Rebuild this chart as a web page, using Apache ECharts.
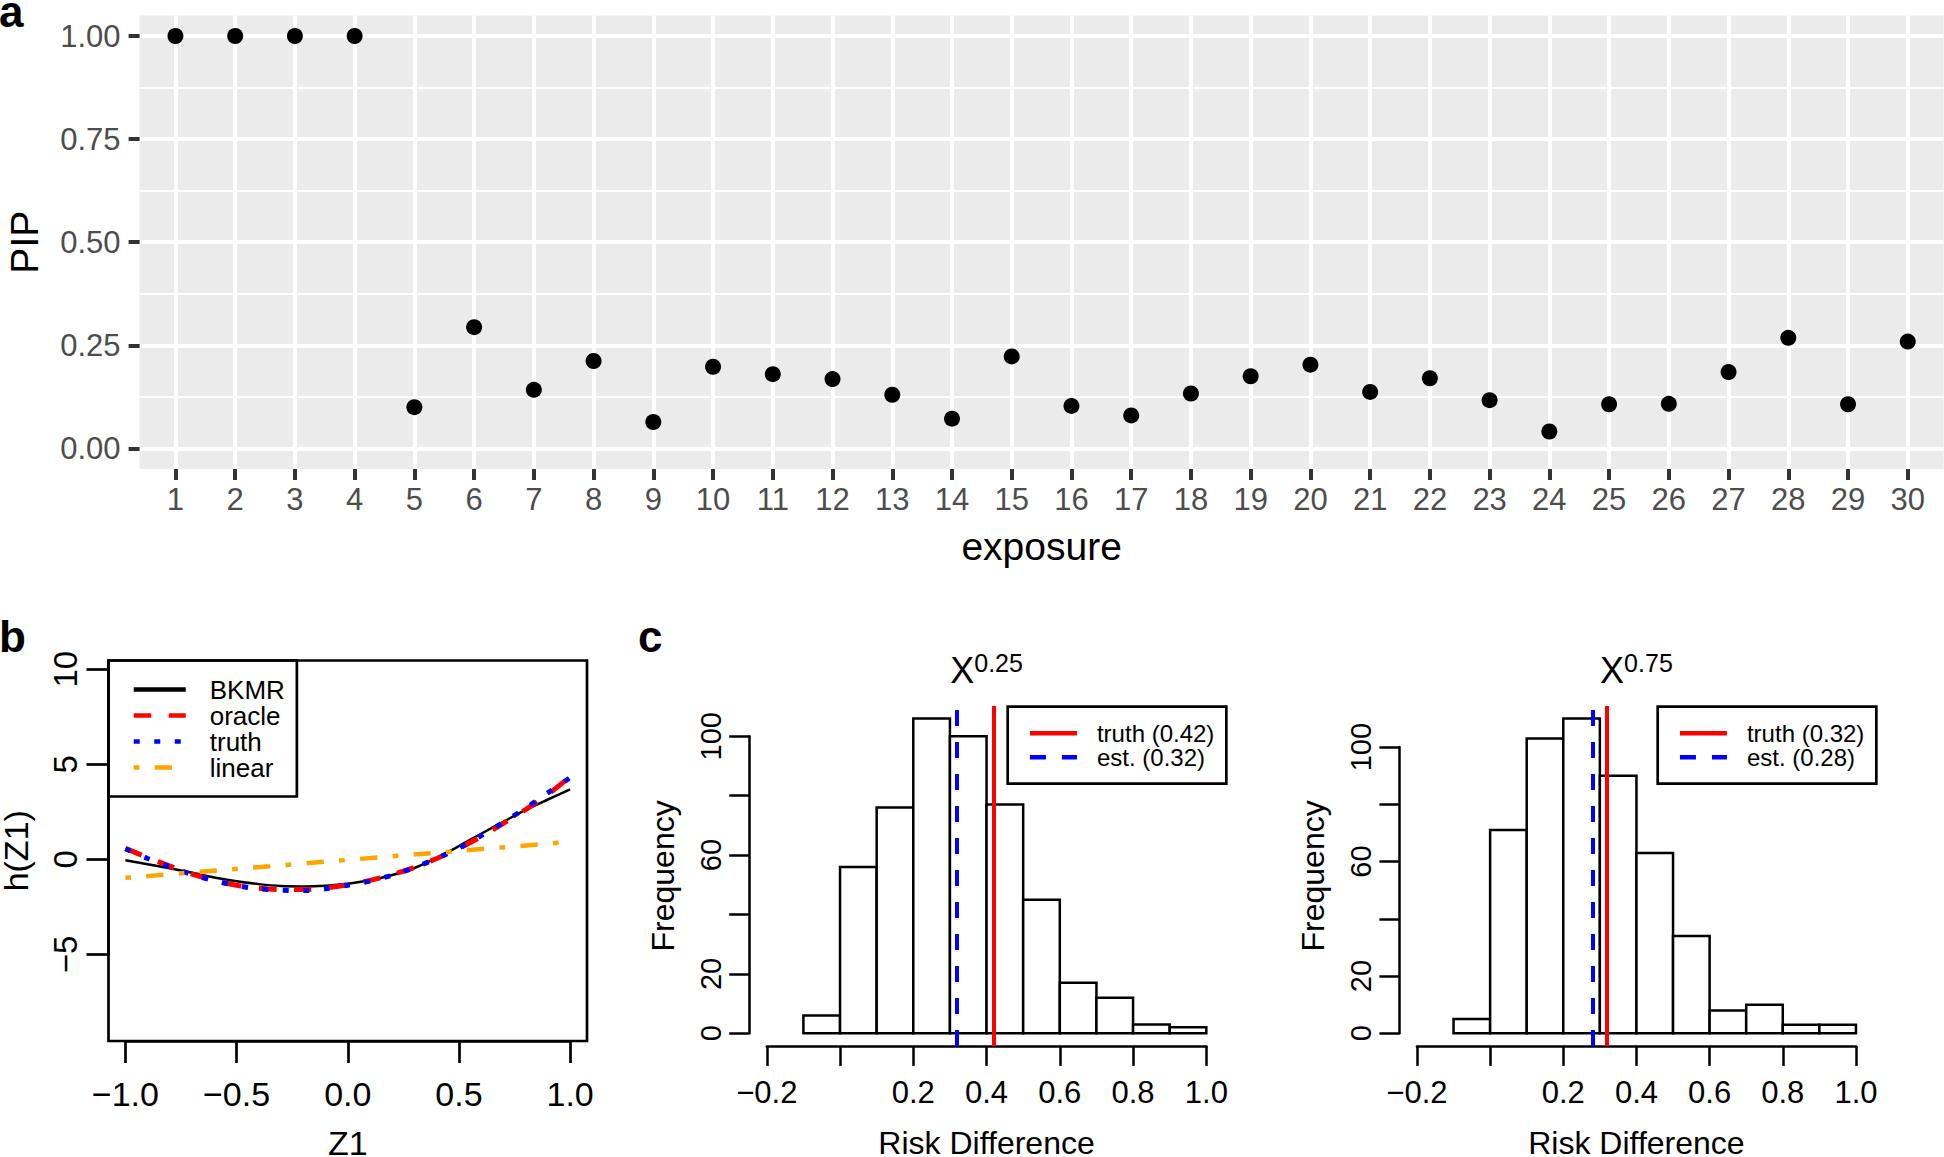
<!DOCTYPE html>
<html><head><meta charset="utf-8">
<script src="https://cdn.jsdelivr.net/npm/echarts@6/dist/echarts.min.js"></script>
<style>html,body{margin:0;padding:0;background:#fff}#c{width:1944px;height:1157px}</style>
</head><body><div id="c"></div>
<script>
// ---------------- data ----------------
// panel a : posterior inclusion probabilities
const exposures = [1,2,3,4,5,6,7,8,9,10,11,12,13,14,15,16,17,18,19,20,21,22,23,24,25,26,27,28,29,30];
const pip = [1.00,1.00,1.00,1.00,0.100,0.294,0.142,0.212,0.064,0.198,0.180,0.168,0.130,0.072,0.223,0.103,0.080,0.133,0.175,0.203,0.137,0.170,0.117,0.041,0.107,0.108,0.185,0.268,0.107,0.259];
const pipTicks = [0, 0.25, 0.5, 0.75, 1];
const pipMinorTicks = [0.125, 0.375, 0.625, 0.875];
// panel b : exposure-response curves
const z1 = [-1.0,-0.9,-0.8,-0.7,-0.6,-0.5,-0.4,-0.3,-0.2,-0.1,0.0,0.1,0.2,0.3,0.4,0.5,0.6,0.7,0.8,0.9,1.0];
const hBKMR   = [-0.04,-0.25,-0.47,-0.70,-0.95,-1.15,-1.30,-1.40,-1.42,-1.38,-1.28,-1.10,-0.82,-0.45,0.08,0.70,1.35,1.98,2.60,3.15,3.68];
const hOracle = [0.58,0.10,-0.35,-0.78,-1.10,-1.36,-1.52,-1.58,-1.58,-1.50,-1.33,-1.10,-0.80,-0.42,0.05,0.58,1.20,1.90,2.62,3.42,4.35];
const hTruth  = [0.56,0.05,-0.38,-0.80,-1.12,-1.38,-1.54,-1.62,-1.64,-1.55,-1.36,-1.14,-0.83,-0.43,0.05,0.60,1.25,1.95,2.70,3.50,4.30];
const zLinear = [-1.0, 1.0];
const hLinear = [-0.97, 0.92];
const zTicks = [-1, -0.5, 0, 0.5, 1];
const hTicks = [-5, 0, 5, 10];
// panel c : histograms of risk difference
const quantiles = ['0.25', '0.75'];
const breaks = [-0.1,0.0,0.1,0.2,0.3,0.4,0.5,0.6,0.7,0.8,0.9,1.0];
const freq25 = [6,56,76,106,100,77,45,17,12,3,2];
const freq75 = [5,71,103,110,90,63,34,8,10,3,3];
const truth25 = 0.42, est25 = 0.32;
const truth75 = 0.32, est75 = 0.28;
const rdTicks = [-0.2,0.0,0.2,0.4,0.6,0.8,1.0];
const rdLabels = [-0.2,0.2,0.4,0.6,0.8,1.0];
const freqTicks = [0,20,40,60,80,100];
const freqLabels = [0,20,60,100];

// ---------------- layout ----------------
const FONT = '"Liberation Sans", Arial, Helvetica, sans-serif';
const PA = {left:139.6, top:15.4, width:1804, height:453.6, xMin:0.4, xMax:30.6, yMin:-0.05, yMax:1.05};
const PB = {left:108.5, top:660.5, width:478.5, height:380.5, xMin:-1.076, xMax:1.076, yMin:-9.55, yMax:10.46};
function histRange(f){ const m = Math.max(...f); return [-0.04*m, 1.04*m]; }
const r25 = histRange(freq25), r75 = histRange(freq75);
const PC1 = {left:749.2, top:705.9, width:474.7, height:340, xMin:-0.248, xMax:1.048, yMin:r25[0], yMax:r25[1]};
const PC2 = {left:1399.4, top:705.9, width:474.1, height:340, xMin:-0.248, xMax:1.048, yMin:r75[0], yMax:r75[1]};
function pxX(P,v){ return P.left + (v-P.xMin)/(P.xMax-P.xMin)*P.width; }
function pxY(P,v){ return P.top + (P.yMax-v)/(P.yMax-P.yMin)*P.height; }
function minus(s){ return String(s).replace('-', '\u2212'); }

const hidden = {axisLine:{show:false, onZero:false}, axisTick:{show:false}, axisLabel:{show:false}, splitLine:{show:false}};
function plotGrid(P, extra){ return Object.assign({left:P.left, top:P.top, width:P.width, height:P.height, containLabel:false, outerBoundsMode:'none', show:false}, extra||{}); }
function axesGrid(P, x0, x1, y0, y1){
  const l = pxX(P,x0), r = pxX(P,x1), t = pxY(P,y1), b = pxY(P,y0);
  return {left:l, top:t, width:r-l, height:b-t, containLabel:false, outerBoundsMode:'none', show:false};
}
const grids = [
  plotGrid(PA, {show:true, backgroundColor:'#EBEBEB', borderWidth:0}),
  plotGrid(PB, {show:true, backgroundColor:'transparent', borderColor:'#000', borderWidth:2.7}),
  axesGrid(PB, -1, 1, -5, 10),
  plotGrid(PC1),
  axesGrid(PC1, -0.2, 1.0, 0, 100),
  plotGrid(PC2),
  axesGrid(PC2, -0.2, 1.0, 0, 100)
];

function nameAxis(grid, P, isX, name, gap, size){
  return Object.assign({type:'value', gridIndex:grid, min: isX?P.xMin:P.yMin, max: isX?P.xMax:P.yMax,
    name:name, nameLocation:'middle', nameGap:gap, nameMoveOverlap:false,
    nameTextStyle:{fontSize:size, color:'#000', fontFamily:FONT}}, hidden);
}
function histXAxis(grid, P){
  return {type:'value', gridIndex:grid, min:-0.2, max:1.0, offset: P.top+P.height - pxY(P,0),
    axisLine:{show:true, onZero:false, lineStyle:{color:'#000', width:2.5}},
    axisTick:{show:true, inside:false, length:20, customValues:rdTicks, lineStyle:{color:'#000', width:2.5}},
    axisLabel:{show:true, customValues:rdLabels, margin:31, fontSize:31, color:'#000', fontFamily:FONT, formatter:v=>minus(v.toFixed(1))},
    splitLine:{show:false}};
}
function histYAxis(grid, P){
  return {type:'value', gridIndex:grid, min:0, max:100, offset: pxX(P,-0.2) - P.left,
    axisLine:{show:true, onZero:false, lineStyle:{color:'#000', width:2.5}},
    axisTick:{show:true, inside:false, length:20, customValues:freqTicks, lineStyle:{color:'#000', width:2.5}},
    axisLabel:{show:true, customValues:freqLabels, rotate:90, margin:24, fontSize:29, color:'#000', fontFamily:FONT},
    splitLine:{show:false}};
}

const xAxes = [
  {type:'value', gridIndex:0, min:PA.xMin, max:PA.xMax,
   axisLine:{show:false, onZero:false},
   axisTick:{show:true, inside:false, length:11, customValues:exposures, lineStyle:{color:'#333', width:4}},
   axisLabel:{show:true, customValues:exposures, margin:15, fontSize:31, color:'#4D4D4D', fontFamily:FONT},
   splitLine:{show:true, lineStyle:{color:'#fff', width:4}},
   name:'exposure', nameLocation:'middle', nameGap:58, nameMoveOverlap:false,
   nameTextStyle:{fontSize:39, color:'#000', fontFamily:FONT}},
  nameAxis(1, PB, true, 'Z1', 85, 34),
  {type:'value', gridIndex:2, min:-1, max:1, offset: PB.top+PB.height - pxY(PB,-5),
   axisLine:{show:true, onZero:false, lineStyle:{color:'#000', width:2.7}},
   axisTick:{show:true, inside:false, length:22, customValues:zTicks, lineStyle:{color:'#000', width:2.7}},
   axisLabel:{show:true, customValues:zTicks, margin:36, fontSize:34, color:'#000', fontFamily:FONT, formatter:v=>minus(v.toFixed(1))},
   splitLine:{show:false}},
  nameAxis(3, PC1, true, 'Risk Difference', 81, 32),
  histXAxis(4, PC1),
  nameAxis(5, PC2, true, 'Risk Difference', 81, 32),
  histXAxis(6, PC2)
];
const yAxes = [
  {type:'value', gridIndex:0, min:PA.yMin, max:PA.yMax,
   axisLine:{show:false, onZero:false},
   axisTick:{show:true, inside:false, length:11, customValues:pipTicks, lineStyle:{color:'#333', width:4}},
   axisLabel:{show:true, customValues:pipTicks, margin:19, fontSize:31, color:'#4D4D4D', fontFamily:FONT, formatter:v=>v.toFixed(2)},
   splitLine:{show:true, lineStyle:{color:'#fff', width:4}},
   name:'PIP', nameLocation:'middle', nameGap:96, nameMoveOverlap:false,
   nameTextStyle:{fontSize:39, color:'#000', fontFamily:FONT}},
  {type:'value', gridIndex:0, min:PA.yMin, max:PA.yMax, position:'left',
   axisLine:{show:false, onZero:false}, axisTick:{show:false, customValues:pipMinorTicks}, axisLabel:{show:false},
   splitLine:{show:true, lineStyle:{color:'#fff', width:2}}},
  nameAxis(1, PB, false, 'h(Z1)', 76, 34),
  {type:'value', gridIndex:2, min:-5, max:10, offset: pxX(PB,-1) - PB.left,
   axisLine:{show:true, onZero:false, lineStyle:{color:'#000', width:2.7}},
   axisTick:{show:true, inside:false, length:22, customValues:hTicks, lineStyle:{color:'#000', width:2.7}},
   axisLabel:{show:true, customValues:hTicks, rotate:90, margin:27, fontSize:33, color:'#000', fontFamily:FONT, formatter:v=>minus(v)},
   splitLine:{show:false}},
  nameAxis(3, PC1, false, 'Frequency', 70, 32),
  histYAxis(4, PC1),
  nameAxis(5, PC2, false, 'Frequency', 70, 32),
  histYAxis(6, PC2)
];

function zip(xs, ys){ return xs.map((x,i)=>[x, ys[i]]); }
function curve(name, ys, xs, color, width, type){
  return {type:'line', name:name, xAxisIndex:1, yAxisIndex:2, data:zip(xs, ys), symbol:'none', smooth:0.3,
    lineStyle:{color:color, width:width, type:type, cap:'butt'}, itemStyle:{color:color}, silent:true, clip:true};
}
function hist(xi, yi, counts){
  const data = counts.map((c,i)=>[breaks[i], breaks[i+1], c]);
  return {type:'custom', xAxisIndex:xi, yAxisIndex:yi, data:data, encode:{x:[0,1], y:2}, silent:true, clip:false,
    renderItem:(params, api)=>{
      const p0 = api.coord([api.value(0), 0]);
      const p1 = api.coord([api.value(1), api.value(2)]);
      return {type:'rect', shape:{x:p0[0], y:p1[1], width:p1[0]-p0[0], height:p0[1]-p1[1]},
        style:{fill:'#fff', stroke:'#000', lineWidth:2.5}};
    }};
}
function vline(xi, yi, name, value, color, type){
  return {type:'line', name:name, xAxisIndex:xi, yAxisIndex:yi, data:[], symbol:'none', z:5,
    lineStyle:{color:color, width:4, type:type, cap:'butt'}, itemStyle:{color:color},
    markLine:{symbol:['none','none'], silent:true, animation:false, label:{show:false},
      lineStyle:{color:color, width:4, type:type, cap:'butt'}, emphasis:{disabled:true},
      data:[{xAxis:value}]}};
}
const nT25 = 'truth (' + truth25.toFixed(2) + ')', nE25 = 'est. (' + est25.toFixed(2) + ')';
const nT75 = 'truth (' + truth75.toFixed(2) + ')', nE75 = 'est. (' + est75.toFixed(2) + ')';

const series = [
  {type:'scatter', xAxisIndex:0, yAxisIndex:0, data:zip(exposures, pip), symbol:'circle', symbolSize:16,
   itemStyle:{color:'#000', opacity:1}, silent:true},
  curve('BKMR', hBKMR, z1, '#000', 2.5, 'solid'),
  curve('oracle', hOracle, z1, '#FF0000', 5, [17.5,17.5]),
  curve('truth', hTruth, z1, '#0000FF', 5, [6,14.5]),
  curve('linear', hLinear, zLinear, '#FFA500', 4.5, [5.7,15.3,17.3,15.3]),
  hist(3, 4, freq25),
  vline(3, 4, nT25, truth25, '#FF0000', 'solid'),
  vline(3, 4, nE25, est25, '#0000FF', [16,16]),
  hist(5, 6, freq75),
  vline(5, 6, nT75, truth75, '#FF0000', 'solid'),
  vline(5, 6, nE75, est75, '#0000FF', [16,16])
];

function legendBox(names, left, top, pad, itemW, fontSize, lh, textPad){
  return {show:true, data:names, left:left, top:top, orient:'vertical', padding:pad,
    borderColor:'#000', borderWidth:2.7, backgroundColor:'transparent', borderRadius:0,
    itemWidth:itemW, itemHeight:14, itemGap:0, selectedMode:false,
    itemStyle:{color:'transparent', opacity:0, borderWidth:0},
    lineStyle:{width:4.5, cap:'butt'},
    textStyle:{fontSize:fontSize, lineHeight:lh, color:'#000', fontFamily:FONT, padding:[0,0,0,textPad]}};
}
const legends = [
  legendBox(['BKMR','oracle','truth','linear'], PB.left, PB.top, [16,12,16,23], 52, 26, 25.7, 19),
  legendBox([nT25, nE25], 1007.7, 706.7, [14.5,12,14.5,20], 47, 24, 23, 15),
  legendBox([nT75, nE75], 1657.7, 706.7, [14.5,12,14.5,20], 47, 24, 23, 15)
];

function letter(t, x, baseline){
  return {type:'text', x:x, y:baseline - 0.3465*44, silent:true,
    style:{text:t, fontSize:44, fontWeight:'bold', fontFamily:FONT, fill:'#000', align:'left', verticalAlign:'middle'}};
}
function supTitle(P, q){
  return {type:'text', x:P.left + P.width/2, y:650.6, silent:true,
    style:{text:'{x|X}{s|' + q + '}', align:'center', verticalAlign:'top', fill:'#000',
      rich:{x:{fontSize:36, lineHeight:40, fontFamily:FONT, fill:'#000'},
            s:{fontSize:25, lineHeight:13, verticalAlign:'top', fontFamily:FONT, fill:'#000'}}}};
}
const graphics = [
  letter('a', -1, 27), letter('b', -1, 651.5), letter('c', 638, 651.5),
  supTitle(PC1, quantiles[0]), supTitle(PC2, quantiles[1])
];

const chart = echarts.init(document.getElementById('c'), null, {renderer:'svg', width:1944, height:1157});
chart.setOption({
  animation:false,
  backgroundColor:'#fff',
  textStyle:{fontFamily:FONT},
  grid:grids, xAxis:xAxes, yAxis:yAxes, series:series, legend:legends, graphic:graphics,
  tooltip:{show:false}
});
</script></body></html>
